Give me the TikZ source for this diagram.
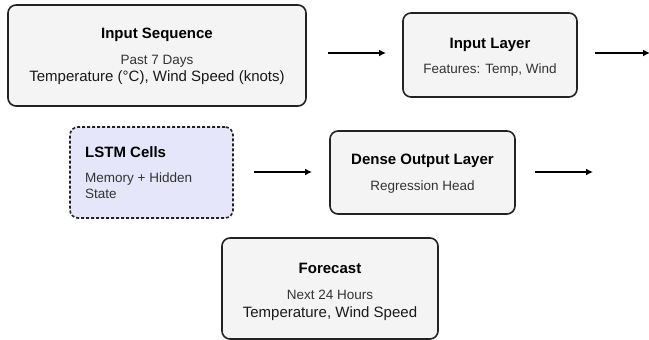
\documentclass[tikz,border=0pt]{standalone}
\usepackage{fontspec}
\setmainfont{Liberation Sans}
\usetikzlibrary{arrows.meta}
\definecolor{boxfill}{HTML}{F4F4F4}
\definecolor{lstmfill}{HTML}{E6E6FA}
\definecolor{edge}{HTML}{222222}
\definecolor{bodytxt}{HTML}{333333}
\tikzset{
  box/.style={draw=edge, line width=1.6pt, rounded corners=8pt, fill=boxfill, inner sep=0pt},
  lstmbox/.style={box, fill=lstmfill, dashed, dash pattern=on 3pt off 2pt},
  ttl/.style={font=\fontsize{15}{17}\selectfont\bfseries, text=black, inner sep=0pt, anchor=base},
  sub/.style={font=\fontsize{13.5}{16}\selectfont, text=bodytxt, inner sep=0pt, anchor=base},
  big/.style={font=\fontsize{15}{17}\selectfont, text=black!90, inner sep=0pt, anchor=base},
  flow/.style={line width=1.7pt, draw=black, -{Latex[length=7pt,width=7pt]}},
}
\begin{document}
\begin{tikzpicture}[x=1pt,y=-1pt]
\useasboundingbox (0,0) rectangle (649,340);
% boxes
\node[box, minimum width=298pt, minimum height=101pt] (seq) at (157,55.5) {};
\node[box, minimum width=174pt, minimum height=84pt] (inl) at (490,55) {};
\node[lstmbox, minimum width=163pt, minimum height=91pt] (lstm) at (151.5,172.5) {};
\node[box, minimum width=185pt, minimum height=83pt] (dense) at (422.5,172.5) {};
\node[box, minimum width=216pt, minimum height=101pt] (fc) at (330,288.5) {};
% texts
\node[ttl] (seqt) at (157,38.5) {Input Sequence};
\node[sub] (seqa) at (157,64) {Past 7 Days};
\node[big] (seqb) at (157,81.5) {Temperature (°C), Wind Speed (knots)};
\node[ttl] (inlt) at (490,48.5) {Input Layer};
\node[sub] (inla) at (490,74) {Features: Temp, Wind};
\node[ttl, anchor=base west] (lstmt) at (85,157.5) {LSTM Cells};
\node[sub, anchor=base west] (lstma) at (85,182) {Memory + Hidden};
\node[sub, anchor=base west] (lstmb) at (85,198) {State};
\node[ttl] (denset) at (422.5,164.5) {Dense Output Layer};
\node[sub] (densea) at (422.5,190) {Regression Head};
\node[ttl] (fct) at (330,273.5) {Forecast};
\node[sub] (fca) at (330,299) {Next 24 Hours};
\node[big] (fcb) at (330,317.5) {Temperature, Wind Speed};
% arrows
\coordinate (a1s) at (328,53); \coordinate (a1e) at (386,53);
\coordinate (a2s) at (595,53); \coordinate (a2e) at (650,53);
\coordinate (a3s) at (254,172); \coordinate (a3e) at (312,172);
\coordinate (a4s) at (535,172); \coordinate (a4e) at (593,172);
\draw[flow] (a1s) -- (a1e);
\draw[flow] (a2s) -- (a2e);
\draw[flow] (a3s) -- (a3e);
\draw[flow] (a4s) -- (a4e);
\end{tikzpicture}
\end{document}
